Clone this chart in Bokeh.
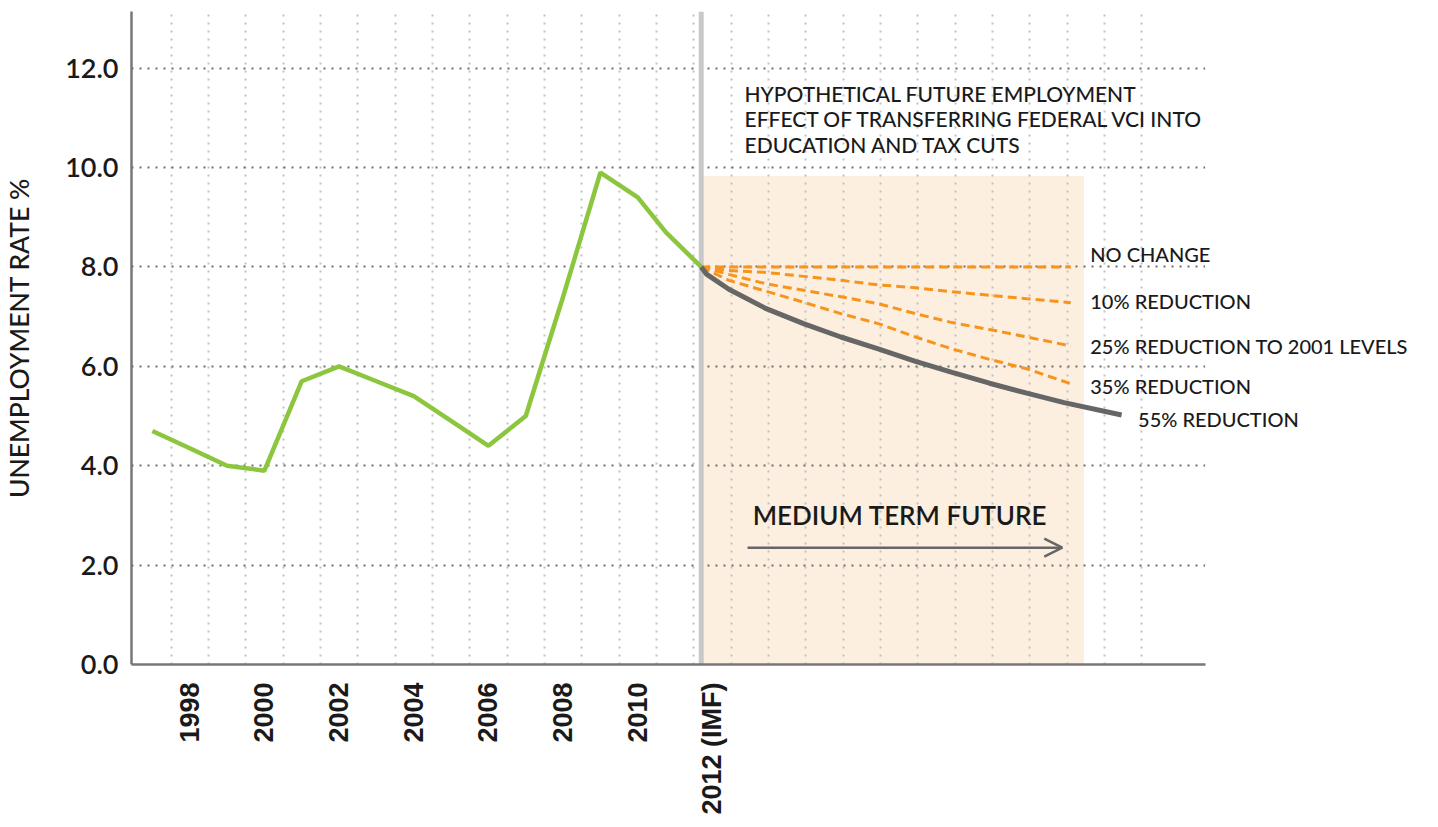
import math
from bokeh.plotting import figure
from bokeh.models import (Range1d, FixedTicker, Span, Arrow, OpenHead, Label,
                          PrintfTickFormatter, BoxAnnotation)
from bokeh.embed import file_html
from bokeh.resources import INLINE

# ---------------- data ----------------
hist_years = [1997, 1998, 1999, 2000, 2001, 2002, 2003, 2004, 2005, 2006,
              2007, 2008, 2009, 2010, 2010.75, 2011.7]
hist_rate = [4.7, 4.35, 4.0, 3.9, 5.7, 6.0, 5.7, 5.4, 4.9, 4.4,
             5.0, 7.4, 9.9, 9.4, 8.7, 8.0]

proj_years = [2011.7, 2012.44, 2013.44, 2014.44, 2015.44, 2016.44,
              2017.44, 2018.42, 2019.42, 2020.42, 2021.6]
no_change = [8.0, 8.0, 8.0, 8.0, 8.0, 8.0, 8.0, 8.0, 8.0, 8.0, 8.0]
red_10 = [8.0, 7.93, 7.89, 7.81, 7.73, 7.64, 7.58, 7.50, 7.43, 7.36, 7.28]
red_25 = [8.0, 7.85, 7.66, 7.53, 7.40, 7.26, 7.06, 6.88, 6.74, 6.59, 6.41]
red_35 = [8.0, 7.73, 7.51, 7.29, 7.06, 6.86, 6.59, 6.35, 6.14, 5.95, 5.65]

red55_years = [2011.7, 2011.85, 2012.44, 2013.44, 2014.44, 2015.44, 2016.44,
               2017.44, 2018.42, 2019.42, 2020.42, 2021.42, 2022.96]
red_55 = [8.0, 7.85, 7.55, 7.16, 6.86, 6.59, 6.35, 6.10, 5.88, 5.66,
          5.46, 5.27, 5.02]

x_ticks = [1998, 2000, 2002, 2004, 2006, 2008, 2010, 2012]
x_tick_labels = ["1998", "2000", "2002", "2004", "2006", "2008", "2010", "2012 (IMF)"]
y_ticks = [0, 2, 4, 6, 8, 10, 12]

series_names = ["NO CHANGE", "10% REDUCTION", "25% REDUCTION TO 2001 LEVELS",
                "35% REDUCTION", "55% REDUCTION"]
series_label_x = [2022.12, 2022.12, 2022.12, 2022.12, 2023.4]
series_label_y = [8.27, 7.32, 6.40, 5.61, 4.95]

note_lines = ["HYPOTHETICAL FUTURE EMPLOYMENT",
              "EFFECT OF TRANSFERRING FEDERAL VCI INTO",
              "EDUCATION AND TAX CUTS"]
note_x = [2012.86, 2012.86, 2012.86]
note_y = [11.49, 10.99, 10.46]

forecast_start = 2011.7
forecast_end = 2021.95
shade_top = 9.83

x_axis_start = 1996.44
x_axis_end = 2025.2

# ---------------- styles ----------------
MEDFONT = "Lato Medium, Lato"
BOLDFONT = "Lato Semibold, Lato"
TXT = "#1a1a1a"
GREEN = "#8cc63f"
ORANGE = "#f7941d"
DARK = "#666666"

p = figure(frame_width=1300, frame_height=653,
           min_border_left=131, min_border_right=5,
           min_border_top=11, min_border_bottom=160,
           x_range=Range1d(x_axis_start, 2031.26), y_range=Range1d(0, 13.14),
           output_backend="svg", toolbar_location=None,
           background_fill_color="white", border_fill_color="white")
p.outline_line_color = None

# grids
p.xgrid.ticker = FixedTicker(ticks=[1997.5 + i for i in range(27)])
p.xgrid.grid_line_color = "#c2c2c2"
p.xgrid.grid_line_dash = "2 6"
p.xgrid.grid_line_width = 2
p.ygrid.ticker = FixedTicker(ticks=[2, 4, 6, 8, 10, 12])
p.ygrid.grid_line_color = "#6e6e6e"
p.ygrid.grid_line_dash = "2 6"
p.ygrid.grid_line_width = 2

# blank out grid beyond the end of the x axis (label margin)
p.add_layout(BoxAnnotation(left=x_axis_end, fill_color="white", fill_alpha=1.0,
                           line_color=None, level="underlay"))

# axes
for ax in (p.xaxis[0], p.yaxis[0]):
    ax.axis_line_color = "#777777"
    ax.axis_line_width = 2.5
    ax.major_tick_line_color = None
    ax.minor_tick_line_color = None
    ax.major_tick_out = 0
    ax.major_tick_in = 0
    ax.major_label_text_color = TXT

p.xaxis.bounds = (x_axis_start, x_axis_end)

p.yaxis.ticker = FixedTicker(ticks=y_ticks)
p.yaxis.formatter = PrintfTickFormatter(format="%.1f")
p.yaxis.major_label_text_font = BOLDFONT
p.yaxis.major_label_text_font_size = "27px"
p.yaxis.major_label_standoff = 13
p.yaxis.axis_label = "UNEMPLOYMENT RATE %"
p.yaxis.axis_label_text_font = MEDFONT
p.yaxis.axis_label_text_font_style = "normal"
p.yaxis.axis_label_text_font_size = "26.5px"
p.yaxis.axis_label_text_color = TXT
p.yaxis.axis_label_standoff = 27

p.xaxis.ticker = FixedTicker(ticks=x_ticks)
p.xaxis.major_label_overrides = {t: s for t, s in zip(x_ticks, x_tick_labels)}
p.xaxis.major_label_orientation = math.pi / 2
p.xaxis.major_label_standoff = 18
p.xaxis.major_label_text_font = "Liberation Sans"
p.xaxis.major_label_text_font_style = "bold"
p.xaxis.major_label_text_font_size = "27px"

# shaded forecast window
p.quad(left=[forecast_start], right=[forecast_end], bottom=[0], top=[shade_top],
       fill_color="#fdefe0", line_color=None, level="image")

# forecast divider
p.add_layout(Span(location=forecast_start, dimension="height",
                  line_color="#c8c8c8", line_width=5, level="underlay"))

# historical line
p.line(hist_years, hist_rate, line_color=GREEN, line_width=4.5)

# projections
for ys in (no_change, red_10, red_25, red_35):
    p.line(proj_years, ys, line_color=ORANGE, line_width=3, line_dash="9 5")
p.line(red55_years, red_55, line_color=DARK, line_width=5)

# series labels
for lx, ly, t in zip(series_label_x, series_label_y, series_names):
    p.add_layout(Label(x=lx, y=ly, text=t, text_font=MEDFONT,
                       text_font_size="20px", text_color=TXT,
                       text_baseline="middle", text_align="left"))

# note
for lx, ly, t in zip(note_x, note_y, note_lines):
    p.add_layout(Label(x=lx, y=ly, text=t, text_font=MEDFONT,
                       text_font_size="21px", text_color=TXT,
                       text_baseline="middle", text_align="left"))

p.add_layout(Label(x=2013.08, y=3.0, text="MEDIUM TERM FUTURE",
                   text_font=BOLDFONT, text_font_size="26px",
                   text_color=TXT, text_baseline="middle", text_align="left"))

p.add_layout(Arrow(end=OpenHead(size=18, line_color=DARK, line_width=2.5),
                   x_start=2012.94, y_start=2.35, x_end=2021.37, y_end=2.35,
                   line_color=DARK, line_width=2.5))

open("out.html", "w").write(file_html(p, INLINE))
